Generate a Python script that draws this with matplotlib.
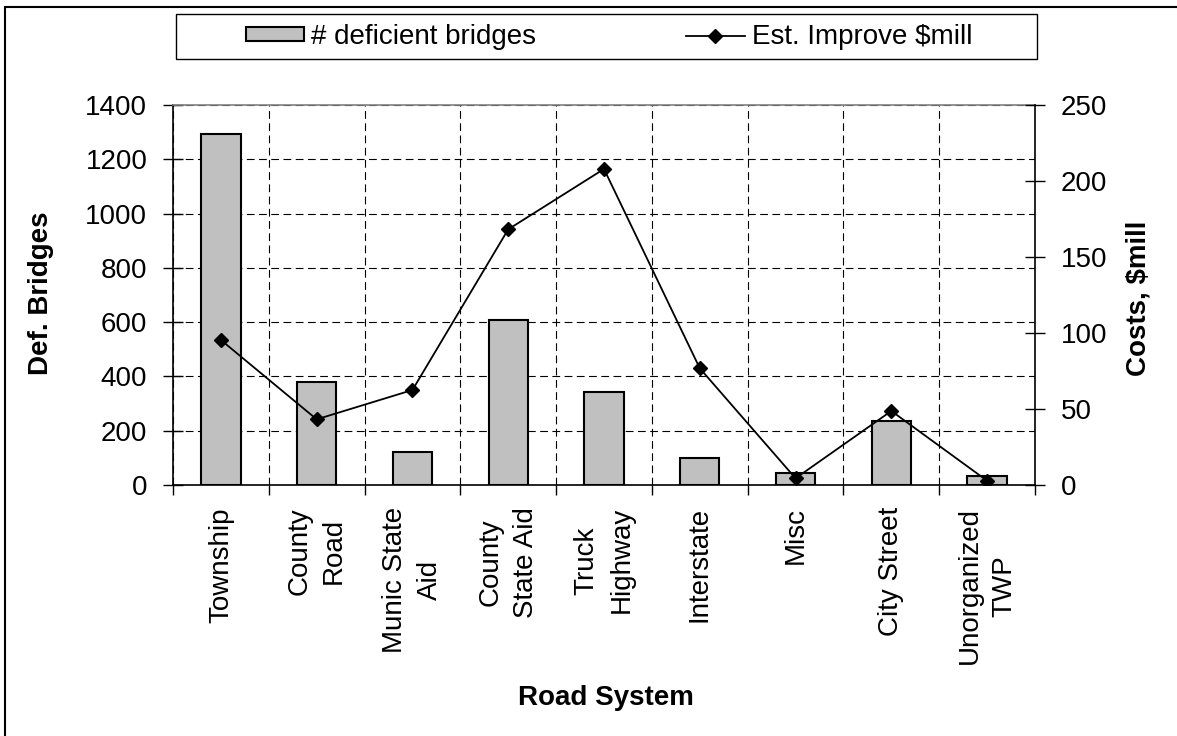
import numpy as np
import matplotlib.pyplot as plt
from matplotlib.lines import Line2D
from matplotlib.patches import Patch, Rectangle

plt.rcParams['font.family'] = ['Liberation Sans', 'DejaVu Sans']

# Deficient bridges and estimated improvement cost by road system
road_systems = ["Township", "County\nRoad", "Munic State\nAid", "County\nState Aid",
                "Truck\nHighway", "Interstate", "Misc", "City Street", "Unorganized\nTWP"]
deficient_bridges = [1293, 378, 122, 608, 344, 100, 43, 237, 34]
improve_cost = [95.4, 43.2, 62.5, 168.2, 207.9, 76.8, 4.4, 48.7, 2.8]

bridge_ticks = list(range(0, 1401, 200))
cost_ticks = list(range(0, 251, 50))

bar_color = "#c0c0c0"
x = np.arange(len(road_systems))

fig = plt.figure(figsize=(11.77, 7.36), dpi=100)
ax = fig.add_axes([173 / 1177, 1 - 485 / 736, 862 / 1177, 380 / 736])

ax.bar(x, deficient_bridges, width=0.41, color=bar_color, edgecolor="black",
       linewidth=1.5, zorder=3)
ax.set_xlim(-0.5, len(road_systems) - 0.5)
ax.set_ylim(0, 1400)
ax.set_yticks(bridge_ticks)
ax.set_axisbelow(True)

# dashed grid: horizontal at bridge ticks, vertical between categories
ax.set_xticks(x)
ax.set_xticks(np.arange(-0.5, len(road_systems), 1), minor=True)
ax.set_xticklabels(road_systems, rotation=90, va="top", ha="center",
                   multialignment="center", linespacing=1.45)
grid_style = dict(color="black", linewidth=0.8, linestyle=(0, (7, 4)))
ax.grid(axis="y", which="major", **grid_style)
ax.grid(axis="x", which="minor", **grid_style)

ax.tick_params(axis="y", direction="inout", length=15, width=1, labelsize=20, pad=11)
ax.tick_params(axis="x", which="major", length=0, labelsize=20, pad=16)
ax.tick_params(axis="x", which="minor", direction="out", length=7.5, width=1)

for side in ["left", "bottom"]:
    ax.spines[side].set_linewidth(1.2)
ax.spines["top"].set_color("#808080")
ax.spines["top"].set_linewidth(1.2)
ax.spines["right"].set_visible(False)

ax2 = ax.twinx()
ax2.plot(x, improve_cost, color="black", linewidth=1.3, marker="D", markersize=7,
         zorder=4)
ax2.set_ylim(0, 250)
ax2.set_yticks(cost_ticks)
ax2.tick_params(axis="y", direction="inout", length=15, width=1, labelsize=20, pad=11)
for side in ["left", "top", "bottom"]:
    ax2.spines[side].set_visible(False)
ax2.spines["right"].set_linewidth(1.2)

fig.text(41 / 1177, 1 - 293 / 736, "Def. Bridges", rotation=90, ha="center",
         va="center", fontsize=20, fontweight="bold")
fig.text(1138 / 1177, 1 - 298 / 736, r"Costs, \$mill", rotation=90, ha="center",
         va="center", fontsize=20, fontweight="bold")
fig.text(606 / 1177, 1 - 698 / 736, "Road System", ha="center", va="center",
         fontsize=20, fontweight="bold")

# legend with its own box across the top
handles = [Patch(facecolor=bar_color, edgecolor="black", linewidth=1.5),
           Line2D([], [], color="black", linewidth=1.3, marker="D", markersize=7)]
fig.legend(handles, ["# deficient bridges", r"Est. Improve \$mill"], loc="center",
           bbox_to_anchor=(609 / 1177, 1 - 37 / 736), ncol=2, frameon=False,
           fontsize=20, handlelength=2.1, handleheight=0.4, handletextpad=0.25,
           columnspacing=5.4)
fig.patches.append(Rectangle((176 / 1177, 1 - 59 / 736), 861 / 1177, 45 / 736,
                             transform=fig.transFigure, fill=False,
                             edgecolor="black", linewidth=1))

# outer chart border
fig.patches.append(Rectangle((5 / 1177, -0.1), 1.2, 1.1 - 7 / 736,
                             transform=fig.transFigure, fill=False,
                             edgecolor="black", linewidth=1.5))

fig.savefig("out.png", dpi=100)
